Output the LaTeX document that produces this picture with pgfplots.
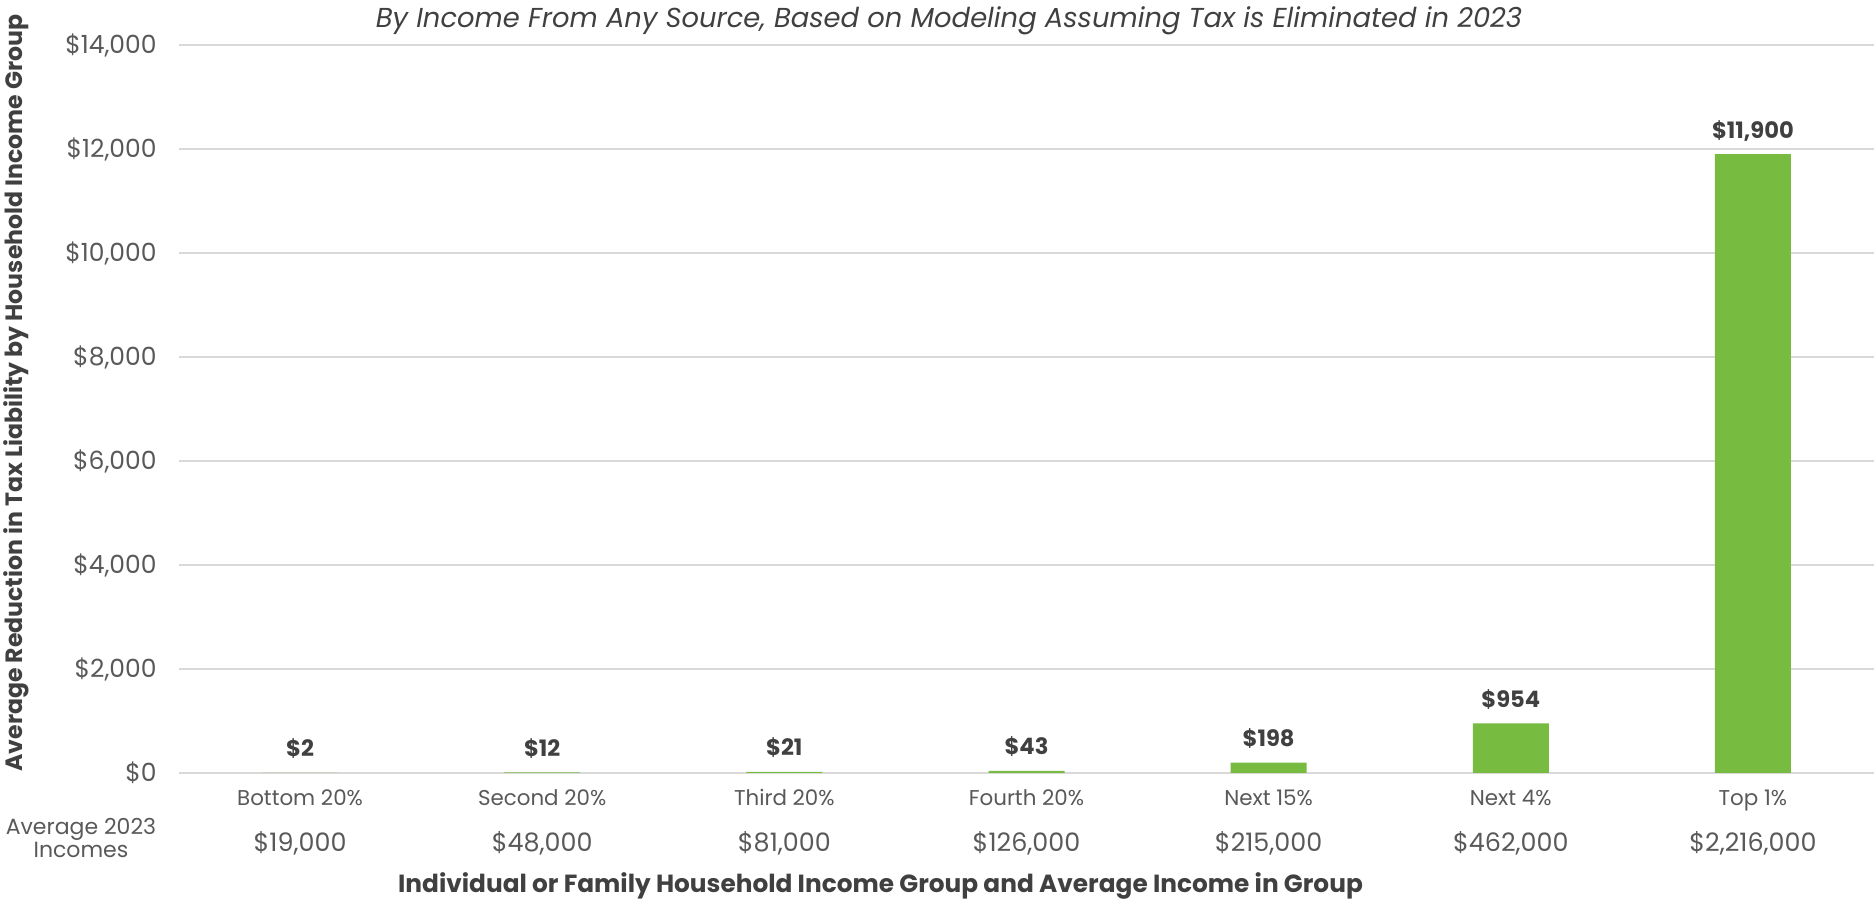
\documentclass[border=0pt]{standalone}
\usepackage{pgfplots}
\pgfplotsset{compat=1.18}
\usepackage{fontspec}
\setmainfont{Poppins}
\definecolor{barg}{HTML}{77BB41}
\definecolor{gridc}{HTML}{D9D9D9}
\definecolor{tickc}{HTML}{595959}
\definecolor{labc}{HTML}{404040}
\begin{document}
\begin{tikzpicture}
\begin{axis}[
  at={(0,0)}, anchor=south west,
  scale only axis, width=847.5pt, height=364pt,
  xmin=-0.5, xmax=6.5, ymin=0, ymax=14000,
  scaled y ticks=false,
  axis line style={draw=none},
  major tick length=0pt,
  ymajorgrids, grid style={gridc, line width=1pt},
  ytick={0,2000,4000,6000,8000,10000,12000,14000},
  yticklabels={\$0,{\$2,000},{\$4,000},{\$6,000},{\$8,000},{\$10,000},{\$12,000},{\$14,000}},
  yticklabel style={font=\fontsize{12.5}{15}\selectfont, text=tickc, anchor=base east, inner sep=0pt, xshift=-11pt, yshift=-4.5pt},
  xtick={0,...,6},
  xticklabels={Bottom 20\%,Second 20\%,Third 20\%,Fourth 20\%,Next 15\%,Next 4\%,Top 1\%},
  xticklabel style={font=\fontsize{10.7}{13}\selectfont, text=tickc, anchor=base, inner sep=0pt, yshift=-16.5pt},
  nodes near coords,
  point meta=explicit symbolic,
  every node near coord/.append style={font=\fontsize{11.3}{13}\bfseries, text=labc, anchor=base, inner sep=0pt, yshift=8pt},
  clip=false,
]
\addplot[ybar, bar width=38pt, fill=barg, draw=none] coordinates {
  (0,2) [\$2]
  (1,12) [\$12]
  (2,21) [\$21]
  (3,43) [\$43]
  (4,198) [\$198]
  (5,954) [\$954]
  (6,11900) [\$11{,}900]
};
% average incomes under the group names
\foreach \i/\v in {0/{\$19,000},1/{\$48,000},2/{\$81,000},3/{\$126,000},4/{\$215,000},5/{\$462,000},6/{\$2,216,000}}{
  \edef\temp{\noexpand\node[anchor=base, inner sep=0pt, text=tickc, font=\noexpand\fontsize{12.7}{15}\noexpand\selectfont, yshift=-39.5pt] at (axis cs:\i,0) {\unexpanded\expandafter{\v}};}
  \temp
}
\end{axis}
\node[anchor=base, inner sep=0pt, text=labc, font=\fontsize{13.7}{16}\itshape] at (385pt,372.5pt)
  {By Income From Any Source, Based on Modeling Assuming Tax is Eliminated in 2023};
\node[anchor=base west, rotate=90, inner sep=0pt, text=labc, font=\fontsize{11.8}{14}\bfseries] at (-78pt,0.5pt)
  {Average Reduction in Tax Liability by Household Income Group};
\node[anchor=base, inner sep=0pt, text=tickc, font=\fontsize{11}{13}\selectfont] at (-49pt,-31pt) {Average 2023};
\node[anchor=base, inner sep=0pt, text=tickc, font=\fontsize{11}{13}\selectfont] at (-49pt,-42.5pt) {Incomes};
\node[anchor=base, inner sep=0pt, text=labc, font=\fontsize{12.4}{15}\bfseries] at (350.75pt,-60pt)
  {Individual or Family Household Income Group and Average Income in Group};
\pgfresetboundingbox
\path[use as bounding box] (-89.5pt,-65.5pt) rectangle (847.5pt,386.5pt);
\end{tikzpicture}
\end{document}
